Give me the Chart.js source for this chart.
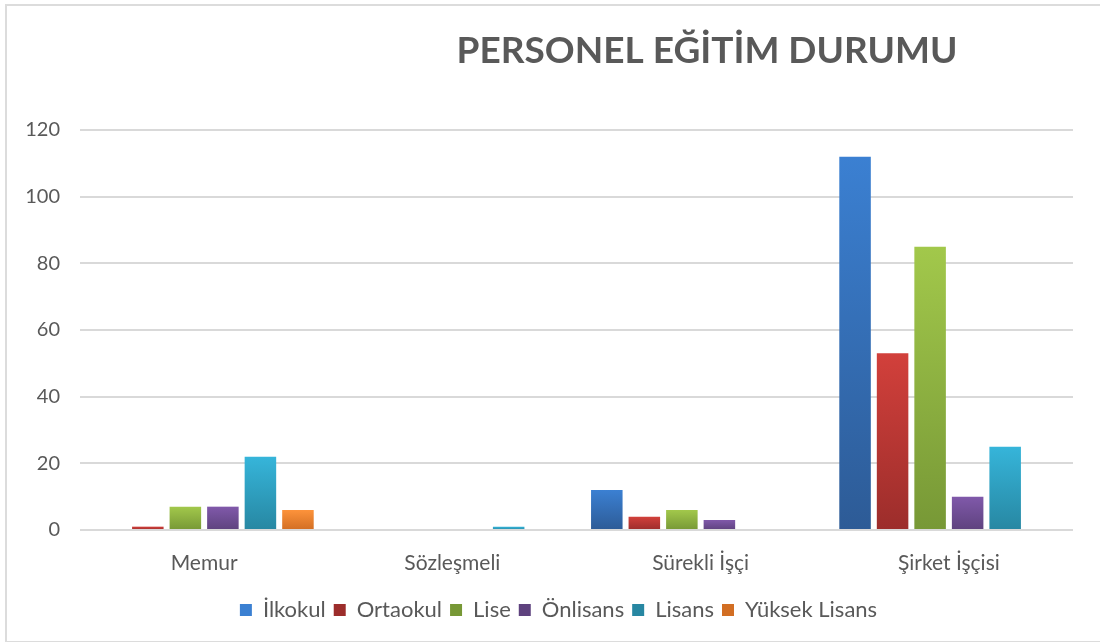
<!DOCTYPE html>
<html>
<head>
<meta charset="utf-8">
<script src="https://cdn.jsdelivr.net/npm/chart.js@4"></script>
<style>
    body { margin: 0; background: #fff; }
    #wrap { position: relative; width: 1100px; height: 642px; }
    #frame {
        position: absolute; left: 5px; top: 4px; width: 1100px; height: 635px;
        border-left: 2px solid #dcdcdc; border-top: 2px solid #dcdcdc; border-bottom: 2px solid #dcdcdc;
        pointer-events: none;
    }
</style>
</head>
<body>
<div id="wrap">
    <canvas id="myChart" width="1100" height="642"></canvas>
    <div id="frame"></div>
</div>
<script>
const kategoriler = ['Memur', 'Sözleşmeli', 'Sürekli İşçi', 'Şirket İşçisi'];
const ilkokul = [0, 0, 12, 112];
const ortaokul = [1, 0, 4, 53];
const lise = [7, 0, 6, 85];
const onlisans = [7, 0, 3, 10];
const lisans = [22, 1, 0, 25];
const yuksekLisans = [6, 0, 0, 0];
const yTicks = [0, 20, 40, 60, 80, 100, 120];

// top / bottom of each gradient
const renkler = {
    ilkokul: ['#3b80d2', '#2d5b96'],
    ortaokul: ['#d2403b', '#9c2d2b'],
    lise: ['#a2c84b', '#779836'],
    onlisans: ['#8059aa', '#5e427e'],
    lisans: ['#36b5da', '#2787a2'],
    yuksek: ['#fd933b', '#d26e23']
};

function gradyan(pair) {
    return function (context) {
        const chart = context.chart;
        if (context.type !== 'data' || !chart.chartArea) {
            return pair[0];
        }
        const y = chart.scales.y;
        const top = y.getPixelForValue(context.raw);
        const base = y.getPixelForValue(0);
        if (!isFinite(top) || base - top < 1) {
            return pair[0];
        }
        const g = chart.ctx.createLinearGradient(0, top, 0, base);
        g.addColorStop(0, pair[0]);
        g.addColorStop(1, pair[1]);
        return g;
    };
}

const titlePlugin = {
    id: 'baslik',
    afterLayout(chart) {
        // legend sits a bit right of the canvas centre in the original
        chart.legend.left += 22;
        chart.legend.right += 22;
    },
    afterDraw(chart) {
        const c = chart.ctx;
        c.save();
        c.font = 'bold 37px Lato';
        c.fillStyle = '#595959';
        c.textAlign = 'center';
        c.textBaseline = 'middle';
        c.fillText('PERSONEL EĞİTİM DURUMU', 707, 51);
        c.restore();
    }
};

const ctx = document.getElementById('myChart').getContext('2d');
const myChart = new Chart(ctx, {
    type: 'bar',
    data: {
        labels: kategoriler,
        datasets: [
            { label: 'İlkokul', data: ilkokul, backgroundColor: gradyan(renkler.ilkokul) },
            { label: 'Ortaokul', data: ortaokul, backgroundColor: gradyan(renkler.ortaokul) },
            { label: 'Lise', data: lise, backgroundColor: gradyan(renkler.lise) },
            { label: 'Önlisans', data: onlisans, backgroundColor: gradyan(renkler.onlisans) },
            { label: 'Lisans', data: lisans, backgroundColor: gradyan(renkler.lisans) },
            { label: 'Yüksek Lisans', data: yuksekLisans, backgroundColor: gradyan(renkler.yuksek) }
        ]
    },
    plugins: [titlePlugin],
    options: {
        responsive: false,
        animation: false,
        categoryPercentage: 0.907,
        barPercentage: 0.84,
        layout: {
            padding: { top: 130, right: 27, left: 0, bottom: 11 }
        },
        plugins: {
            title: { display: false },
            tooltip: { enabled: false },
            legend: {
                position: 'bottom',
                labels: {
                    boxWidth: 12,
                    boxHeight: 12,
                    padding: 8,
                    color: '#595959',
                    font: { family: 'Lato', size: 22 }
                }
            }
        },
        scales: {
            x: {
                afterFit: (scale) => { scale.height = 61; },
                grid: { display: false, drawTicks: false },
                border: { display: false },
                ticks: {
                    color: '#595959',
                    padding: 21,
                    font: { family: 'Lato', size: 21 }
                }
            },
            y: {
                min: 0,
                max: 120,
                afterBuildTicks: (scale) => {
                    scale.ticks = yTicks.map(v => ({ value: v }));
                },
                afterFit: (scale) => { scale.width = 80; },
                grid: { color: '#d9d9d9', lineWidth: 2, drawTicks: false },
                border: { display: false },
                ticks: {
                    color: '#595959',
                    padding: 20,
                    font: { family: 'Lato', size: 20 }
                }
            }
        }
    }
});
</script>
</body>
</html>
